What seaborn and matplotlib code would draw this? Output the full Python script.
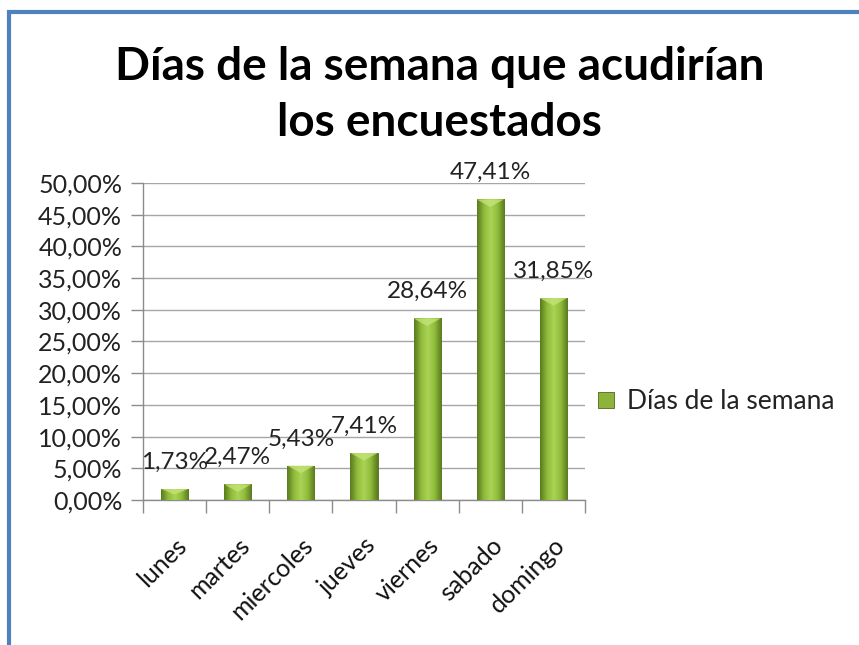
import matplotlib
matplotlib.use("Agg")
import matplotlib.pyplot as plt
import numpy as np
import pandas as pd
import seaborn as sns
from matplotlib.colors import LinearSegmentedColormap
from matplotlib.patches import Rectangle
from matplotlib.ticker import FuncFormatter, MultipleLocator

dias = ["lunes", "martes", "miercoles", "jueves", "viernes", "sabado", "domingo"]
porcentajes = [1.73, 2.47, 5.43, 7.41, 28.64, 47.41, 31.85]
serie = "Días de la semana"
titulo = "Días de la semana que acudirían\nlos encuestados"

df = pd.DataFrame({"dia": dias, "pct": porcentajes})

sns.set_theme(style="white")
plt.rcParams["font.family"] = ["Lato", "DejaVu Sans"]

fig = plt.figure(figsize=(8.59, 6.45), dpi=100)
ax = fig.add_axes([0.1665, 0.2248, 0.5145, 0.4915])

sns.barplot(data=df, x="dia", y="pct", color="#8db33a", width=0.43,
            saturation=1, ax=ax, label=serie, zorder=3)

# gradient fill on each bar (dark edges, light centre)
cmap = LinearSegmentedColormap.from_list("g", ["#5a7a1e", "#8fbb3a", "#a9d455", "#8fbb3a", "#5a7a1e"])
grad = np.linspace(0, 1, 64).reshape(1, -1)
for bar in ax.patches:
    x0, y0 = bar.get_x(), bar.get_y()
    w, h = bar.get_width(), bar.get_height()
    bar.set_edgecolor("#4f6b1a")
    bar.set_linewidth(0.6)
    im = ax.imshow(grad, cmap=cmap, extent=[x0, x0 + w, y0, y0 + h],
                   aspect="auto", zorder=3.5, interpolation="bicubic")
    im.set_clip_path(bar)
    # lighter bevel at the top
    top = min(1.2, h * 0.5)
    ax.fill([x0, x0 + w, x0 + w * 0.5], [y0 + h, y0 + h, y0 + h - top],
            color="#c6e57a", alpha=0.75, zorder=3.6, lw=0)

for i, v in enumerate(porcentajes):
    ax.text(i, v + 4.2, f"{v:.2f}%".replace(".", ","), ha="center", va="center",
            fontsize=17.5, color="#222222", zorder=5)

ax.set_xlim(-0.5, len(dias) - 0.5)
ax.set_ylim(0, 50)
ax.yaxis.set_major_locator(MultipleLocator(5))
ax.yaxis.set_major_formatter(FuncFormatter(lambda v, p: f"{v:.2f}%".replace(".", ",")))
ax.grid(axis="y", color="#a6a6a6", lw=1, zorder=0)
ax.set_axisbelow(True)
ax.set_xlabel("")
ax.set_ylabel("")

for s in ["top", "right"]:
    ax.spines[s].set_visible(False)
for s in ["left", "bottom"]:
    ax.spines[s].set_color("#8c8c8c")
    ax.spines[s].set_linewidth(1)

ax.tick_params(axis="y", which="major", left=True, length=9, width=1, color="#8c8c8c",
               labelsize=18, labelcolor="#222222", pad=6)
ax.set_xticks(range(len(dias)))
ax.set_xticklabels(dias, rotation=45, ha="right", rotation_mode="anchor",
                   fontsize=18, color="#111111")
ax.tick_params(axis="x", which="major", bottom=False, pad=18)
ax.set_xticks(np.arange(-0.5, len(dias)), minor=True)
ax.tick_params(axis="x", which="minor", bottom=True, length=9, width=1, color="#8c8c8c")

leg = ax.legend(loc="center left", bbox_to_anchor=(0.975, 0.31), frameon=False,
                fontsize=19, handlelength=0.6, handleheight=0.6, handletextpad=0.5)
for t in leg.get_texts():
    t.set_color("#222222")

fig.text(0.512, 0.853, titulo, ha="center", va="center", fontsize=33,
         fontweight="bold", color="black", linespacing=1.4)

# chart frame (blue, cut off at right/bottom)
fig.patches.append(Rectangle((9 / 859, -0.05), 1.2, 1 - 12 / 645 + 0.05,
                             transform=fig.transFigure, fill=False,
                             edgecolor="#4f81bd", lw=3, zorder=10))

fig.savefig("out.png", dpi=100)
plt.close()
